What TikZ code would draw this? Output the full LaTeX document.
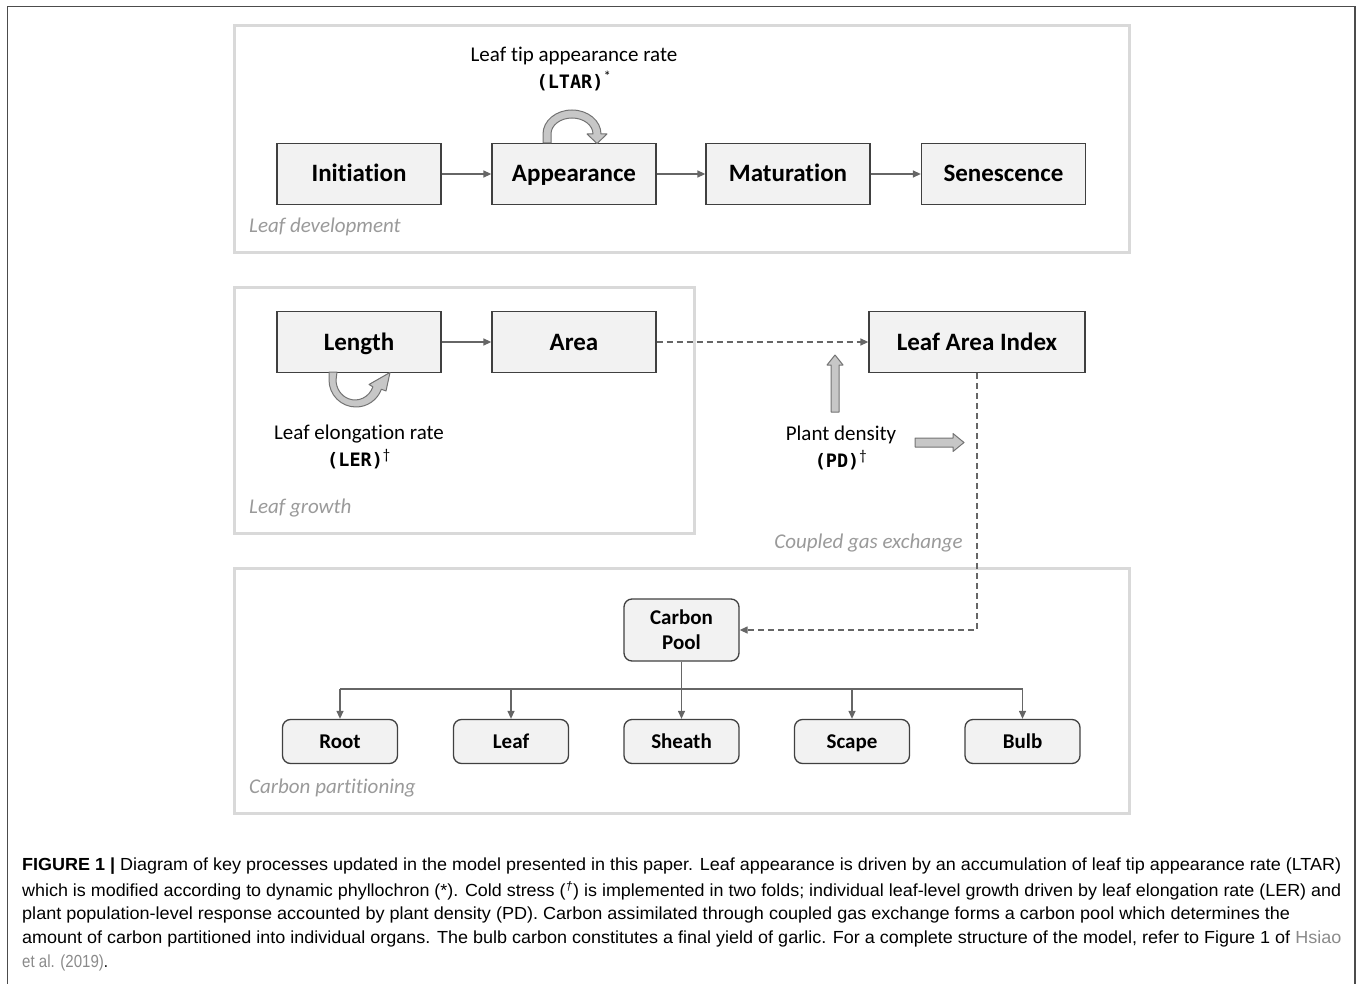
\documentclass[tikz,border=0pt]{standalone}
\usepackage{fontspec}
\usepackage{graphicx}
\setmainfont[Ligatures=NoCommon]{Carlito}
\newfontfamily\monof{DejaVu Sans Mono}
\newfontfamily\capfont[FakeStretch=0.86]{Liberation Sans}
\usetikzlibrary{arrows.meta}
\definecolor{boxfill}{HTML}{F2F2F2}
\definecolor{boxline}{HTML}{404040}
\definecolor{panel}{HTML}{D9D9D9}
\definecolor{conncol}{HTML}{666666}
\definecolor{labgray}{HTML}{9A9A9A}
\definecolor{linkgray}{HTML}{8A8A8A}
\tikzset{
  bigbox/.style={draw=boxline, fill=boxfill, line width=1.3pt, minimum width=164pt, minimum height=61pt, inner sep=0pt, text height=18pt, text depth=2pt, font=\bfseries\fontsize{25}{28}\selectfont},
  rbox/.style={draw=boxline, fill=boxfill, line width=1.3pt, rounded corners=8pt, minimum width=115pt, minimum height=44pt, inner sep=0pt, text height=15pt, text depth=1.5pt, font=\bfseries\fontsize{21}{26}\selectfont},
  conn/.style={draw=conncol, line width=1.3pt, -{Triangle[length=8pt,width=7pt]}},
  plainln/.style={draw=conncol, line width=1.3pt},
  dconn/.style={conn, dash pattern=on 6pt off 4pt},
  panelbox/.style={draw=panel, line width=3pt},
  seclab/.style={font=\itshape\fontsize{21}{24}\selectfont, text=labgray, inner sep=0pt},
  annot/.style={font=\fontsize{21}{24}\selectfont, inner sep=0pt},
  hollow/.style={fill=black!22, draw=black!55, line width=1pt, line join=round},
  capline/.style={anchor=west, inner sep=0pt, font=\capfont\fontsize{17.5}{20}\selectfont}
}
\begin{document}
\begin{tikzpicture}[x=1pt,y=-1pt]
\useasboundingbox (0,0) rectangle (1357,984);
% outer frame
\draw[black!70, line width=1.5pt] (7.5,1000) -- (7.5,6.5) -- (1355,6.5) -- (1355,1000);
% panels
\draw[panelbox] (234,26) rectangle (1129,253);
\draw[panelbox] (234,288) rectangle (694,533);
\draw[panelbox] (234,568) rectangle (1129,813);
% row 1
\node[bigbox] (ini) at (359,174) {Initiation};
\node[bigbox] (app) at (574,174) {Appearance};
\node[bigbox] (mat) at (788,174) {Maturation};
\node[bigbox] (sen) at (1003.5,174) {Senescence};
\draw[conn] (ini) -- (app);
\draw[conn] (app) -- (mat);
\draw[conn] (mat) -- (sen);
% row 2
\node[bigbox] (len) at (359,342) {Length};
\node[bigbox] (area) at (574,342) {Area};
\node[bigbox, minimum width=216pt] (lai) at (977,342) {Leaf Area Index};
\draw[conn] (len) -- (area);
\draw[dconn] (area) -- (lai);
% carbon
\node[rbox, minimum height=62pt, text height=, text depth=, align=center] (cp) at (681.5,630) {Carbon\\[-1pt]Pool};
\draw[dconn] (lai.south) |- (cp.east);
\node[rbox] (root) at (340,741.5) {Root};
\node[rbox] (leaf) at (511,741.5) {Leaf};
\node[rbox] (sheath) at (681.5,741.5) {Sheath};
\node[rbox] (scape) at (852,741.5) {Scape};
\node[rbox] (bulb) at (1022.5,741.5) {Bulb};
\coordinate (br) at (681.5,689);
\draw[plainln] (cp.south) -- (br);
\draw[plainln] (root.north |- br) -- (bulb.north |- br);
\foreach \n in {root,leaf,sheath,scape,bulb}{
  \draw[conn] (\n.north |- br) -- (\n.north);
}
% annotations
\node[annot] (ltar) at (574,56) {Leaf tip appearance rate};
\node[annot] (ltarab) at (574,81) {{\monof\bfseries\fontsize{18.5}{20}\selectfont(LTAR)}\textsuperscript{*}};
\node[annot] (ler) at (359,434) {Leaf elongation rate};
\node[annot] (lerab) at (359,459) {{\monof\bfseries\fontsize{18.5}{20}\selectfont(LER)}\textsuperscript{\dag}};
\node[annot] (pd) at (841,435) {Plant density};
\node[annot] (pdab) at (841,460) {{\monof\bfseries\fontsize{18.5}{20}\selectfont(PD)}\textsuperscript{\dag}};
% section labels
\node[seclab, anchor=west] (s1) at (249,227) {Leaf development};
\node[seclab, anchor=west] (s2) at (249,508) {Leaf growth};
\node[seclab, anchor=east] (s3) at (963,543) {Coupled gas exchange};
\node[seclab, anchor=west] (s4) at (249,788) {Carbon partitioning};
% loop arrow over Appearance
\draw[hollow] (543,143) -- (543,134) arc[start angle=180, end angle=360, x radius=29, y radius=24]
  -- (607,134) -- (597,143.5) -- (587,134) -- (593,134)
  arc[start angle=360, end angle=180, x radius=21, y radius=16] -- (551,143) -- cycle;
% loop arrow under Length
\draw[hollow] (329,372) -- (329,380) arc[start angle=180, end angle=20, x radius=27, y radius=27]
  -- (386,391) -- (390,372.5) -- (369,384.5) -- (372.9,386.8)
  arc[start angle=20, end angle=180, x radius=19, y radius=20] -- (337,372) -- cycle;
% hollow straight arrows (plant density)
\draw[hollow] (831,412) -- (831,365) -- (827,365) -- (835,355) -- (843,365) -- (839,365) -- (839,412) -- cycle;
\draw[hollow] (915,438) -- (953,438) -- (953,433.5) -- (964,442.5) -- (953,451.5) -- (953,447) -- (915,447) -- cycle;
% caption
\node[capline] (c1) at (22,866) {\resizebox{1319pt}{\height}{\textbf{FIGURE 1 |} Diagram of key processes updated in the model presented in this paper. Leaf appearance is driven by an accumulation of leaf tip appearance rate (LTAR)}};
\node[capline] (c2) at (22,891) {\resizebox{1319pt}{\height}{which is modified according to dynamic phyllochron (*). Cold stress (\textsuperscript{\textit{\dag}}) is implemented in two folds; individual leaf-level growth driven by leaf elongation rate (LER) and}};
\node[capline] (c3) at (22,915) {\resizebox{1268pt}{\height}{plant population-level response accounted by plant density (PD). Carbon assimilated through coupled gas exchange forms a carbon pool which determines the}};
\node[capline] (c4) at (22,939) {\resizebox{1319pt}{\height}{amount of carbon partitioned into individual organs. The bulb carbon constitutes a final yield of garlic. For a complete structure of the model, refer to Figure 1 of \textcolor{linkgray}{Hsiao}}};
\node[capline] (c5) at (22,963) {\textcolor{linkgray}{et al. (2019)}.};
\end{tikzpicture}
\end{document}
